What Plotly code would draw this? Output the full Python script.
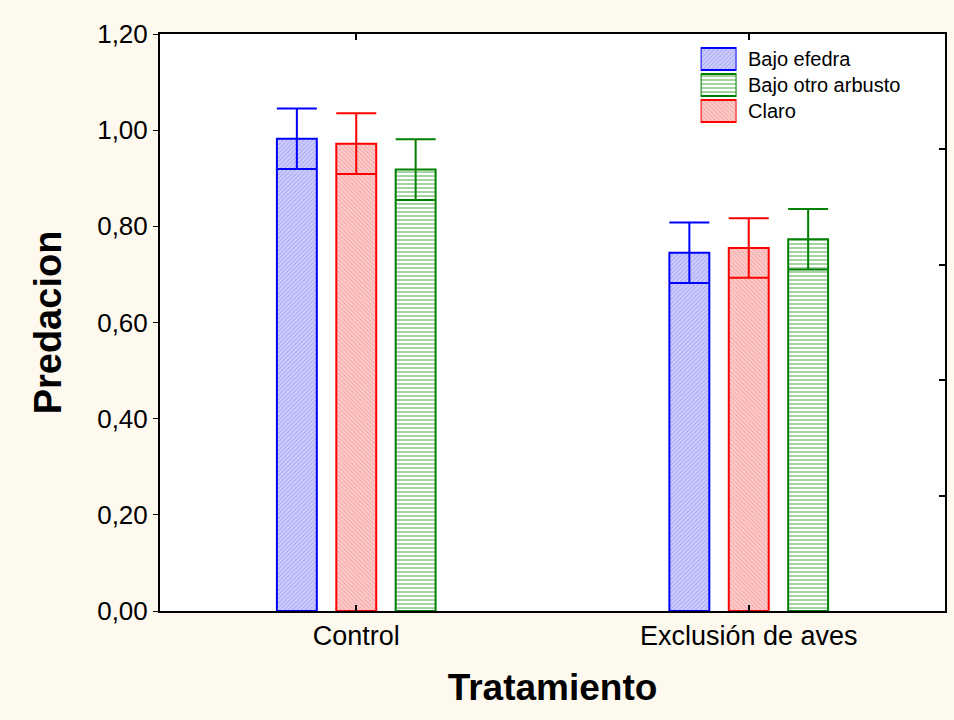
import plotly.graph_objects as go

categories = ["Control", "Exclusión de aves"]
series_names = ["Bajo efedra", "Claro", "Bajo otro arbusto"]
means = {
    "Bajo efedra": [0.982, 0.745],
    "Claro": [0.972, 0.755],
    "Bajo otro arbusto": [0.918, 0.773],
}
errors = {
    "Bajo efedra": [0.063, 0.063],
    "Claro": [0.063, 0.062],
    "Bajo otro arbusto": [0.063, 0.063],
}
legend_order = ["Bajo efedra", "Bajo otro arbusto", "Claro"]
y_ticks = [0, 0.2, 0.4, 0.6, 0.8, 1.0, 1.2]
right_ticks = [0, 0.24, 0.48, 0.72, 0.96, 1.2]

styles = {
    "Bajo efedra": dict(line="#0000FF", fill="#CFCFFF", pat="/", fg="#A8A8F0", size=3),
    "Claro": dict(line="#FF0000", fill="#FFCCCC", pat="\\", fg="#F0A8A8", size=3),
    "Bajo otro arbusto": dict(line="#008000", fill="#FFFFFF", pat="-", fg="#80C080", size=4),
}


def marker_for(name):
    s = styles[name]
    return dict(
        color=s["fill"],
        line=dict(color=s["line"], width=2),
        pattern=dict(shape=s["pat"], fgcolor=s["fg"], bgcolor=s["fill"],
                     size=s["size"], solidity=0.35, fillmode="replace"),
    )


fig = go.Figure()
for name in series_names:
    s = styles[name]
    fig.add_trace(go.Bar(
        x=categories, y=means[name], name=name, showlegend=False,
        marker=marker_for(name),
        error_y=dict(type="data", array=errors[name], visible=True,
                     color=s["line"], thickness=2, width=20),
    ))

# legend swatches (drawn as bars on a small inset axis so they keep the fill pattern)
for i, name in enumerate(legend_order):
    fig.add_trace(go.Bar(
        x=[1], y=[i], base=[0], orientation="h", width=0.84,
        marker=marker_for(name), showlegend=False, hoverinfo="skip",
        xaxis="x3", yaxis="y3",
    ))

fig.add_trace(go.Scatter(x=[None], y=[None], yaxis="y2", showlegend=False, hoverinfo="skip"))

font_family = "Liberation Sans, Arial, sans-serif"

# legend texts
leg_x0 = (747 - 160) / 787
annotations = []
for i, name in enumerate(legend_order):
    annotations.append(dict(
        text=name, x=leg_x0, y=i, xref="paper", yref="y3",
        xanchor="left", yanchor="middle", showarrow=False,
        font=dict(size=20, family=font_family, color="#000"),
    ))

fig.update_layout(
    width=954, height=720,
    paper_bgcolor="#FEF9EF", plot_bgcolor="#FFFFFF",
    margin=dict(l=160, r=7, t=34, b=109),
    barmode="group", bargap=0.546, bargroupgap=0.328,
    separators=",.",
    font=dict(family=font_family, color="#000000", size=27),
    showlegend=False,
    annotations=annotations,
    xaxis=dict(
        showline=True, linecolor="#000", linewidth=2, mirror="ticks",
        ticks="inside", ticklen=6, tickcolor="#000", tickwidth=2,
        tickfont=dict(size=27),
        title=dict(text="<b>Tratamiento</b>", font=dict(size=37), standoff=24),
        range=[-0.5, 1.5],
    ),
    yaxis=dict(
        range=[0, 1.2], tickvals=y_ticks, tickformat=".2f",
        showline=True, linecolor="#000", linewidth=2, mirror=True,
        ticks="outside", ticklen=5, tickcolor="#000", tickwidth=1,
        showgrid=False, zeroline=False, tickfont=dict(size=26),
        title=dict(text="<b>Predacion</b>", font=dict(size=38), standoff=24),
    ),
    yaxis2=dict(
        overlaying="y", side="right", range=[0, 1.2], tickvals=right_ticks,
        showticklabels=False, ticks="inside", ticklen=6, tickcolor="#000",
        tickwidth=2, showgrid=False, zeroline=False, showline=False,
    ),
    xaxis3=dict(
        domain=[(702 - 160) / 787, (738 - 160) / 787], range=[0, 1],
        visible=False, fixedrange=True,
    ),
    yaxis3=dict(
        domain=[(611 - 124) / 577, (611 - 46) / 577], range=[2.5, -0.5],
        visible=False, fixedrange=True, anchor="x3",
    ),
)
fig.update_layout(xaxis3_anchor="y3")

fig.write_html("out.html")
